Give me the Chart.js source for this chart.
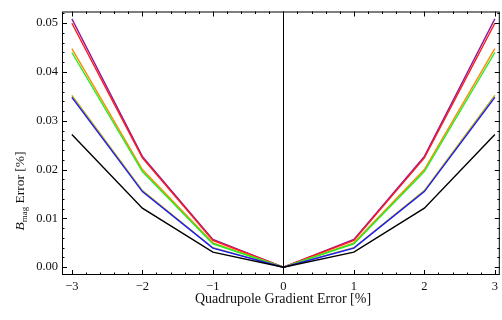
<!DOCTYPE html>
<html>
<head>
<meta charset="utf-8">
<script src="https://cdn.jsdelivr.net/npm/chart.js@4.4.0/dist/chart.umd.min.js"></script>
<style>
  html, body { margin: 0; padding: 0; background: #fff; }
  #wrap { width: 502px; height: 320px; }
</style>
</head>
<body>
<div id="wrap"><canvas id="plot" width="502" height="320"></canvas></div>
<script>
// gradient error values (%)
const gradErr = [-3, -2, -1, 0, 1, 2, 3];

// B_mag error (%) per curve
const purpleErr = [0.0509, 0.0227, 0.0057, 0, 0.0057, 0.0227, 0.0509];
const redErr    = [0.0500, 0.0224, 0.0055, 0, 0.0055, 0.0224, 0.0500];
const orangeErr = [0.0448, 0.0200, 0.0050, 0, 0.0050, 0.0200, 0.0448];
const greenErr  = [0.0440, 0.0196, 0.0048, 0, 0.0048, 0.0196, 0.0440];
const oliveErr  = [0.0352, 0.0157, 0.0040, 0, 0.0040, 0.0157, 0.0352];
const blueErr   = [0.0348, 0.0155, 0.0039, 0, 0.0039, 0.0155, 0.0348];
const blackErr  = [0.0272, 0.0121, 0.0031, 0, 0.0031, 0.0121, 0.0272];

const xTickVals = [-3, -2, -1, 0, 1, 2, 3];
const yTickVals = [0, 0.01, 0.02, 0.03, 0.04, 0.05];

const SERIF = '"Liberation Serif", "DejaVu Serif", serif';

function makeSet(vals, color) {
    return {
        data: gradErr.map((x, i) => ({ x: x, y: vals[i] })),
        borderColor: color,
        borderWidth: 1.4,
        pointRadius: 0,
        tension: 0,
        fill: false
    };
}

// frame with inward ticks on all sides, like Mathematica
const framePlugin = {
    id: 'frame',
    afterDatasetsDraw(chart) {
        const ctx = chart.ctx;
        const a = chart.chartArea;
        const xs = chart.scales.x;
        const ys = chart.scales.y;
        ctx.save();
        // zero line
        ctx.strokeStyle = '#000';
        ctx.lineWidth = 1;
        const x0 = Math.round(xs.getPixelForValue(0)) + 0.5;
        ctx.beginPath();
        ctx.moveTo(x0, a.top);
        ctx.lineTo(x0, a.bottom);
        ctx.stroke();

        ctx.strokeRect(a.left + 0.5, a.top + 0.5, a.right - a.left - 1, a.bottom - a.top - 1);

        ctx.beginPath();
        for (let k = -15; k <= 15; k++) {
            const v = k / 5;
            const p = Math.round(xs.getPixelForValue(v)) + 0.5;
            if (p < a.left || p > a.right) continue;
            const len = (k % 5 === 0) ? 5 : 2.5;
            ctx.moveTo(p, a.bottom);
            ctx.lineTo(p, a.bottom - len);
            ctx.moveTo(p, a.top);
            ctx.lineTo(p, a.top + len);
        }
        for (let k = 0; k <= 26; k++) {
            const v = k * 0.002;
            const p = Math.round(ys.getPixelForValue(v)) + 0.5;
            if (p < a.top || p > a.bottom) continue;
            const len = (k % 5 === 0) ? 5 : 2.5;
            ctx.moveTo(a.left, p);
            ctx.lineTo(a.left + len, p);
            ctx.moveTo(a.right, p);
            ctx.lineTo(a.right - len, p);
        }
        ctx.stroke();

        // axis titles
        ctx.fillStyle = '#111';
        ctx.font = '14px ' + SERIF;
        ctx.textAlign = 'center';
        ctx.textBaseline = 'middle';
        ctx.fillText('Quadrupole Gradient Error [%]', 283, 299);

        ctx.translate(19, 191);
        ctx.rotate(-Math.PI / 2);
        ctx.textAlign = 'left';
        ctx.textBaseline = 'alphabetic';
        const parts = [
            { t: 'B', f: 'italic 13.5px ' + SERIF, dy: 4.5 },
            { t: 'mag', f: '9px ' + SERIF, dy: 7.5 },
            { t: ' Error [%]', f: '13.5px ' + SERIF, dy: 4.5 }
        ];
        let total = 0;
        parts.forEach(p => { ctx.font = p.f; total += ctx.measureText(p.t).width; });
        let cx = -total / 2;
        parts.forEach(p => {
            ctx.font = p.f;
            ctx.fillText(p.t, cx, p.dy);
            cx += ctx.measureText(p.t).width;
        });
        ctx.restore();
    }
};

new Chart(document.getElementById('plot'), {
    type: 'line',
    data: {
        datasets: [
            makeSet(blackErr, '#000000'),
            makeSet(blueErr, '#1a1aff'),
            makeSet(oliveErr, '#b3a600'),
            makeSet(greenErr, '#22ee22'),
            makeSet(orangeErr, '#ff8a00'),
            makeSet(redErr, '#ff1a1a'),
            makeSet(purpleErr, '#8e1a9a')
        ]
    },
    options: {
        responsive: false,
        animation: false,
        layout: { padding: { top: 3, right: 1, left: 0, bottom: 0 } },
        plugins: { legend: { display: false }, tooltip: { enabled: false } },
        scales: {
            x: {
                type: 'linear',
                min: -3.14,
                max: 3.07,
                afterBuildTicks: s => { s.ticks = xTickVals.map(v => ({ value: v })); },
                afterFit: s => { s.height = 45; },
                grid: { display: false, drawTicks: false, tickLength: 0 },
                border: { display: false },
                ticks: {
                    padding: 4,
                    color: '#111',
                    font: { family: SERIF, size: 12.5 },
                    maxRotation: 0,
                    callback: v => (v < 0 ? '\u2212' + Math.abs(v) : String(v))
                }
            },
            y: {
                type: 'linear',
                min: -0.0016,
                max: 0.0524,
                afterBuildTicks: s => { s.ticks = yTickVals.map(v => ({ value: v })); },
                afterFit: s => { s.width = 62; },
                grid: { display: false, drawTicks: false, tickLength: 0 },
                border: { display: false },
                ticks: {
                    padding: 4,
                    color: '#111',
                    font: { family: SERIF, size: 12.5 },
                    callback: v => v.toFixed(2)
                }
            }
        }
    },
    plugins: [framePlugin]
});
</script>
</body>
</html>
